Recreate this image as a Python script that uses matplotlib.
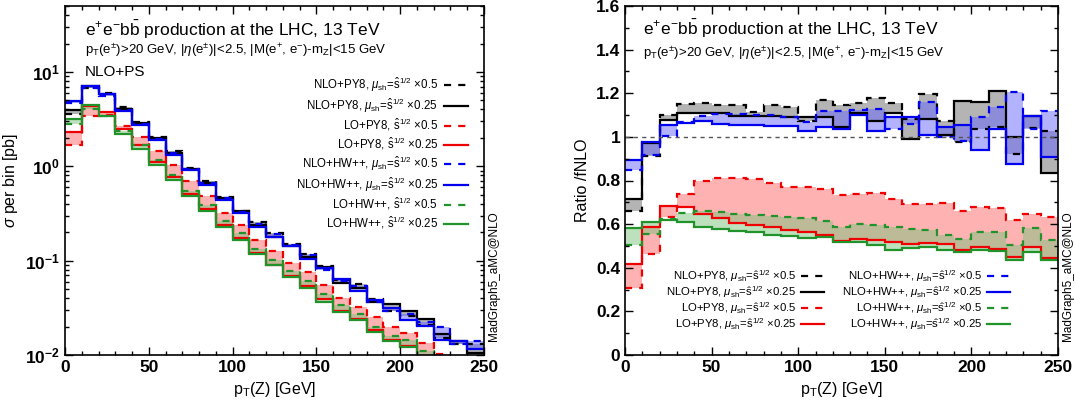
import matplotlib
matplotlib.use('Agg')
import matplotlib.pyplot as plt
from matplotlib.lines import Line2D
from matplotlib.ticker import MultipleLocator, FuncFormatter, LogLocator
import numpy as np

plt.rcParams['font.family'] = ['Liberation Sans', 'DejaVu Sans']
plt.rcParams['mathtext.fontset'] = 'custom'
plt.rcParams['mathtext.rm'] = 'Liberation Sans'
plt.rcParams['mathtext.it'] = 'Liberation Sans:italic'
plt.rcParams['mathtext.bf'] = 'Liberation Sans:bold'

# bins of pT(Z), 10 GeV wide
edges = np.arange(0, 251, 10)

# reference (fixed-order NLO) cross section per bin [pb]
fnlo = [5.5, 7.35, 5.48, 3.65, 2.58, 1.78, 1.26, 0.86, 0.61, 0.42,
        0.31, 0.218, 0.172, 0.129, 0.101, 0.0765, 0.058, 0.047, 0.0363, 0.0298,
        0.0252, 0.0197, 0.0166, 0.0127, 0.0126]

# ratios to fNLO
r_nlo_py8_05 = [0.658, 0.912, 1.10, 1.151, 1.155, 1.146, 1.148, 1.115, 1.148, 1.135,
                1.074, 1.171, 1.148, 1.154, 1.178, 1.154, 1.08, 1.197, 1.074, 0.978,
                1.035, 1.043, 0.923, 1.04, 1.028]
r_nlo_py8_025 = [0.717, 0.97, 1.078, 1.108, 1.108, 1.11, 1.097, 1.097, 1.095, 1.089,
                 1.092, 1.092, 1.043, 1.11, 1.074, 1.11, 0.99, 1.08, 1.008, 1.166,
                 1.16, 1.212, 1.0, 1.095, 0.835]
r_lo_py8_05 = [0.305, 0.462, 0.632, 0.738, 0.797, 0.812, 0.812, 0.805, 0.789, 0.769,
               0.769, 0.763, 0.735, 0.738, 0.743, 0.717, 0.692, 0.694, 0.697, 0.662,
               0.677, 0.675, 0.62, 0.648, 0.631]
r_lo_py8_025 = [0.417, 0.589, 0.685, 0.677, 0.648, 0.628, 0.605, 0.597, 0.585, 0.574,
                0.562, 0.551, 0.523, 0.531, 0.528, 0.517, 0.508, 0.512, 0.508, 0.482,
                0.497, 0.486, 0.451, 0.497, 0.443]
r_nlo_hw_05 = [0.848, 0.915, 1.005, 1.07, 1.095, 1.105, 1.105, 1.10, 1.10, 1.09,
               1.066, 1.117, 1.12, 1.123, 1.128, 1.035, 1.058, 1.158, 1.0, 0.98,
               1.092, 1.138, 1.205, 1.035, 1.12]
r_nlo_hw_025 = [0.892, 0.977, 1.053, 1.065, 1.074, 1.058, 1.054, 1.054, 1.05, 1.048,
                1.025, 1.043, 1.035, 1.10, 1.025, 1.09, 1.092, 1.008, 1.043, 1.055,
                0.938, 1.035, 0.874, 1.097, 0.91]
r_lo_hw_05 = [0.505, 0.555, 0.625, 0.65, 0.658, 0.654, 0.646, 0.643, 0.638, 0.631,
              0.628, 0.615, 0.589, 0.60, 0.597, 0.585, 0.578, 0.574, 0.551, 0.532,
              0.566, 0.566, 0.505, 0.582, 0.528]
r_lo_hw_025 = [0.582, 0.609, 0.62, 0.609, 0.589, 0.577, 0.569, 0.566, 0.55, 0.545,
               0.538, 0.54, 0.517, 0.52, 0.505, 0.482, 0.489, 0.497, 0.482, 0.474,
               0.482, 0.477, 0.435, 0.474, 0.435]

shat = r'$\hat{\mathrm{s}}^{1/2}$'
mush = r'$\mu_{\mathrm{sh}}$='
# (name, ratio x0.5, ratio x0.25, line colour, band colour)
samples = [
    ('NLO+PY8', r_nlo_py8_05, r_nlo_py8_025, 'black', '#6a6a6a'),
    ('LO+PY8', r_lo_py8_05, r_lo_py8_025, '#ee0000', '#ff6666'),
    ('NLO+HW++', r_nlo_hw_05, r_nlo_hw_025, '#0000ee', '#6666ff'),
    ('LO+HW++', r_lo_hw_05, r_lo_hw_025, '#22922a', '#7dc37d'),
]

fig = plt.figure(figsize=(10.75, 4.09), dpi=100)
ax1 = fig.add_axes([65/1075, 1-355/409, 419/1075, 349/409])
ax2 = fig.add_axes([625/1075, 1-355/409, 433/1075, 349/409])

dash = (3.2, 3.2)


def draw(ax, ratio_mode):
    curves = []
    for name, r05, r025, col, fillc in samples:
        y05 = np.array(r05)
        y025 = np.array(r025)
        if not ratio_mode:
            y05 = y05 * np.array(fnlo)
            y025 = y025 * np.array(fnlo)
        curves.append((y05, y025, col, fillc))
    for y05, y025, col, fillc in curves:
        ax.stairs(y05, edges, baseline=y025, fill=True, color=fillc, alpha=0.5, lw=0)
    for y05, y025, col, fillc in curves:
        ax.stairs(y025, edges, baseline=None, color=col, lw=1.6)
        ax.stairs(y05, edges, baseline=None, color=col, lw=1.6, linestyle=(0, dash))


draw(ax1, False)
draw(ax2, True)

for ax in (ax1, ax2):
    ax.set_xlim(0, 250)
    ax.xaxis.set_major_locator(MultipleLocator(50))
    ax.xaxis.set_minor_locator(MultipleLocator(10))
    ax.tick_params(which='both', direction='in', top=True, right=True, labelsize=12.5)
    ax.tick_params(which='major', length=6, width=1)
    ax.tick_params(which='minor', length=3, width=1)
    ax.set_xlabel(r'p$_{\mathrm{T}}$(Z) [GeV]', fontsize=11.5)
    for s in ax.spines.values():
        s.set_linewidth(1.2)
    for lab in ax.get_xticklabels() + ax.get_yticklabels():
        lab.set_fontweight('bold')

# left panel
ax1.set_yscale('log')
ax1.set_ylim(0.01, 50)
ax1.yaxis.set_minor_locator(LogLocator(base=10, subs=np.arange(2, 10)))
ax1.set_ylabel(r'$\sigma$ per bin [pb]', fontsize=11.5)
ax1.text(0.048, 0.931, r'e$^{+}$e$^{-}$b$\bar{\mathrm{b}}$ production at the LHC, 13 TeV',
         transform=ax1.transAxes, fontsize=12.5, va='center')
ax1.text(0.048, 0.872, r'p$_{\mathrm{T}}$(e$^{\pm}$)>20 GeV, |$\eta$(e$^{\pm}$)|<2.5, '
         r'|M(e$^{+}$, e$^{-}$)-m$_{\mathrm{Z}}$|<15 GeV',
         transform=ax1.transAxes, fontsize=9.5, va='center')
ax1.text(0.048, 0.811, 'NLO+PS', transform=ax1.transAxes, fontsize=11, va='center')
ax1.text(1.025, 0.04, 'MadGraph5_aMC@NLO', transform=ax1.transAxes, rotation=90,
         ha='center', va='bottom', fontsize=8.5)

handles1 = []
for name, r05, r025, col, fillc in samples:
    pre = mush if name.startswith('NLO') else ''
    handles1.append(Line2D([], [], color=col, lw=1.6, linestyle=(0, dash),
                           label=name + ', ' + pre + shat + r' ×0.5'))
    handles1.append(Line2D([], [], color=col, lw=1.6,
                           label=name + ', ' + pre + shat + r' ×0.25'))
ax1.legend(handles=handles1, loc='upper right',
           bbox_to_anchor=(0.962, 0.8), frameon=False, markerfirst=False,
           fontsize=8.3, labelspacing=0.22, handlelength=2.1, handletextpad=0.5,
           borderpad=0, borderaxespad=0)

# right panel
ax2.set_ylim(0, 1.6)
ax2.yaxis.set_major_locator(MultipleLocator(0.2))
ax2.yaxis.set_minor_locator(MultipleLocator(0.1))
ax2.yaxis.set_major_formatter(FuncFormatter(lambda v, p: '%g' % round(v, 2)))
for lab in ax2.get_yticklabels():
    lab.set_fontweight('bold')
ax2.axhline(1.0, color='#555555', lw=1, linestyle=(0, (3, 3)))
ax2.set_ylabel('Ratio /fNLO', fontsize=11.5)
ax2.text(0.042, 0.935, r'e$^{+}$e$^{-}$b$\bar{\mathrm{b}}$ production at the LHC, 13 TeV',
         transform=ax2.transAxes, fontsize=12.5, va='center')
ax2.text(0.042, 0.865, r'p$_{\mathrm{T}}$(e$^{\pm}$)>20 GeV, |$\eta$(e$^{\pm}$)|<2.5, '
         r'|M(e$^{+}$, e$^{-}$)-m$_{\mathrm{Z}}$|<15 GeV',
         transform=ax2.transAxes, fontsize=9.5, va='center')
ax2.text(1.023, 0.04, 'MadGraph5_aMC@NLO', transform=ax2.transAxes, rotation=90,
         ha='center', va='bottom', fontsize=8.5)

handles2 = []
for name, r05, r025, col, fillc in samples:
    handles2.append(Line2D([], [], color=col, lw=1.6, linestyle=(0, dash),
                           label=name + ', ' + mush + shat + r' ×0.5'))
    handles2.append(Line2D([], [], color=col, lw=1.6,
                           label=name + ', ' + mush + shat + r' ×0.25'))
ax2.legend(handles=handles2, loc='upper right', ncol=2,
           bbox_to_anchor=(0.889, 0.248), frameon=False, markerfirst=False,
           fontsize=8.2, labelspacing=0.0, handlelength=2.0, handletextpad=0.4,
           columnspacing=1.6, borderpad=0, borderaxespad=0)

fig.savefig('out.png', dpi=100)
